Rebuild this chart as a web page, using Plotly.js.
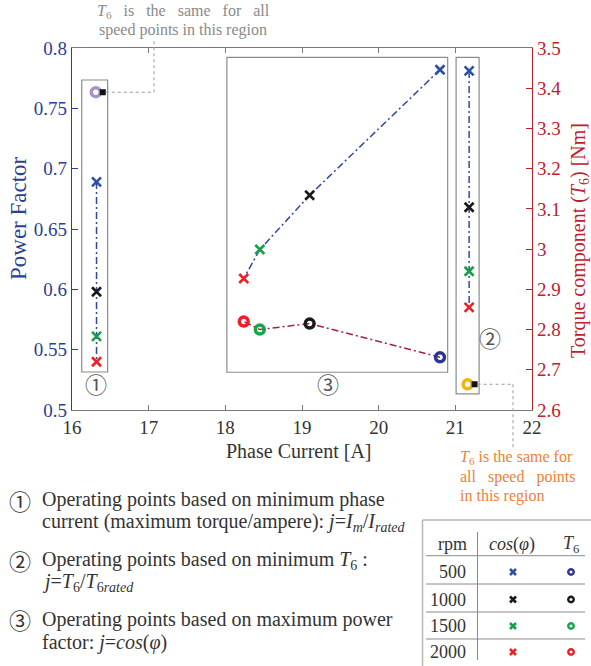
<!DOCTYPE html>
<html>
<head>
<meta charset="utf-8">
<script src="https://cdn.plot.ly/plotly-3.0.1.min.js"></script>
<style>html,body{margin:0;padding:0;background:#fff;}</style>
</head>
<body>
<div id="chart" style="width:591px;height:666px;"></div>
<script>
// ---- data -------------------------------------------------------------
const speeds = ['500', '1000', '1500', '2000'];          // rpm
const crossColors  = ['#2f4ea6', '#1a1a1a', '#17a04c', '#ec2027'];
const circleColors = ['#2d3594', '#1a1a1a', '#12a84a', '#ee1c25'];

// region 1: minimum phase current
const minCurI  = [16.32, 16.32, 16.32, 16.32];
const minCurPF = [0.689, 0.598, 0.561, 0.540];
const minCurT6I = 16.31;
const minCurT6  = 3.39;          // same T6 for all speeds

// region 2: minimum T6
const minT6I  = [21.18, 21.18, 21.18, 21.18];
const minT6PF = [0.781, 0.668, 0.615, 0.585];
const minT6T6I = 21.16;
const minT6T6  = 2.664;          // same T6 for all speeds

// region 3: maximum power factor
const maxPFI  = [20.80, 19.10, 18.45, 18.24];
const maxPFPF = [0.782, 0.678, 0.633, 0.609];
const maxPFT6 = [2.731, 2.815, 2.800, 2.820];

const xTicks  = [16, 17, 18, 19, 20, 21, 22];
const pfTicks = [0.5, 0.55, 0.6, 0.65, 0.7, 0.75, 0.8];
const t6Ticks = [2.6, 2.7, 2.8, 2.9, 3, 3.1, 3.2, 3.3, 3.4, 3.5];

// ---- geometry helpers (figure pixels -> paper fractions) --------------
const W = 591, H = 666;
const PL = 72, PR = 532, PT = 48, PB = 410;
const px = X => X / W;
const py = Y => 1 - Y / H;
const xRange = [16, 22], pfRange = [0.5, 0.8], t6Range = [2.6, 3.5];
const xToPx  = x => PL + (x - xRange[0]) / (xRange[1] - xRange[0]) * (PR - PL);
const t6ToPy = t => PB - (t - t6Range[0]) / (t6Range[1] - t6Range[0]) * (PB - PT);

const SERIF = 'Liberation Serif, Times New Roman, serif';
const CIRC  = 'Noto Sans CJK JP, DejaVu Sans, sans-serif';
const BLUE = '#2b3f96', RED = '#c0202c', GRAY = '#333333';
const dashDot = '7px,3px,2px,3px';

const crossMarker = colors => ({
  symbol: 'x-thin', size: 9, color: colors,
  line: {color: colors, width: 2.6}
});
const ringMarker = colors => ({
  symbol: 'circle-open', size: 9, color: colors,
  line: {color: colors, width: 3.4}
});

const traces = [
  // region 1
  {x: minCurI, y: minCurPF, mode: 'lines', line: {color: '#2d4aa0', width: 1.5, dash: dashDot}},
  {x: minCurI, y: minCurPF, mode: 'markers', marker: crossMarker(crossColors)},
  {x: [minCurT6I], y: [minCurT6], yaxis: 'y2', mode: 'markers', marker: ringMarker(['#a592c8'])},
  // region 2
  {x: minT6I, y: minT6PF, mode: 'lines', line: {color: '#2d4aa0', width: 1.5, dash: dashDot}},
  {x: minT6I, y: minT6PF, mode: 'markers', marker: crossMarker(crossColors)},
  {x: [minT6T6I], y: [minT6T6], yaxis: 'y2', mode: 'markers', marker: ringMarker(['#f6b400'])},
  // region 3
  {x: maxPFI, y: maxPFPF, mode: 'lines', line: {color: '#2d4aa0', width: 1.5, dash: dashDot}},
  {x: maxPFI, y: maxPFPF, mode: 'markers', marker: crossMarker(crossColors)},
  {x: maxPFI, y: maxPFT6, yaxis: 'y2', mode: 'lines', line: {color: '#a3243b', width: 1.5, dash: dashDot}},
  {x: maxPFI, y: maxPFT6, yaxis: 'y2', mode: 'markers', marker: ringMarker(circleColors)}
];

// speed legend table (own hidden axes, in figure pixel units)
const rowY = [572, 599.5, 626, 652];
traces.push({x: rowY.map(() => 513), y: rowY, xaxis: 'x3', yaxis: 'y3', mode: 'markers',
  marker: {symbol: 'x-thin', size: 6, color: crossColors, line: {color: crossColors, width: 2.6}}});
traces.push({x: rowY.map(() => 571), y: rowY, xaxis: 'x3', yaxis: 'y3', mode: 'markers',
  marker: {symbol: 'circle-open', size: 5.5, color: circleColors, line: {color: circleColors, width: 2.4}}});
traces.forEach(t => { t.showlegend = false; t.hoverinfo = 'skip'; t.cliponaxis = false; });

// ---- shapes -----------------------------------------------------------
const shapes = [];
const boxLine = {color: '#8c8c8c', width: 1.2};
// operating-region frames (data coordinates)
[[16.127, 16.465, 0.5315, 0.7735],
 [18.02, 20.90, 0.5313, 0.7923],
 [21.01, 21.31, 0.5133, 0.7923]].forEach(b => shapes.push({
  type: 'rect', xref: 'x', yref: 'y', x0: b[0], x1: b[1], y0: b[2], y1: b[3],
  line: boxLine, layer: 'below'}));

// pointer squares and dotted leaders for the shared-T6 notes
function pointer(cx, cy, path) {
  const sx = xToPx(cx) + 7, sy = t6ToPy(cy);
  shapes.push({type: 'rect', xref: 'paper', yref: 'paper',
    x0: px(sx - 3), x1: px(sx + 3), y0: py(sy + 3), y1: py(sy - 3),
    fillcolor: '#111', line: {width: 0}});
  let pts = [[sx + 3, sy]].concat(path(sx, sy));
  for (let i = 0; i < pts.length - 1; i++) {
    shapes.push({type: 'line', xref: 'paper', yref: 'paper',
      x0: px(pts[i][0]), y0: py(pts[i][1]), x1: px(pts[i + 1][0]), y1: py(pts[i + 1][1]),
      line: {color: '#9a9a9a', width: 1, dash: 'dot'}});
  }
}
pointer(minCurT6I, minCurT6, (sx, sy) => [[154, sy], [154, 41]]);
pointer(minT6T6I, minT6T6, (sx, sy) => [[513, sy], [513, 449]]);

// table rules
const tl = (x0, y0, x1, y1, c, w) => shapes.push({type: 'line', xref: 'paper', yref: 'paper',
  x0: px(x0), y0: py(y0), x1: px(x1), y1: py(y1), line: {color: c, width: w}});
tl(422.5, 520, 591, 520, '#b5b5b5', 1.5);
tl(422.5, 520, 422.5, 666, '#b5b5b5', 1.5);
tl(477.5, 532, 477.5, 660, '#8a8a8a', 1);
[555.7, 584, 612, 639].forEach(y => tl(426, y, 585, y, '#8a8a8a', 1));

// ---- text ---------------------------------------------------------------
const ann = [];
const A = (text, X, Y, o = {}) => ann.push(Object.assign({
  text, xref: 'paper', yref: 'paper', x: px(X), y: py(Y), showarrow: false,
  xanchor: 'center', yanchor: 'middle',
  font: {family: SERIF, size: 16, color: GRAY}}, o));

// axis titles
A('Power Factor', 18, 218, {textangle: -90, font: {family: SERIF, size: 23, color: BLUE}});
A('Phase Current [A]', 299, 451, {font: {family: SERIF, size: 20, color: GRAY}});
A('Torque component (<i>T</i><sub>6</sub>) [Nm]', 579, 241,
  {textangle: -90, font: {family: SERIF, size: 20, color: RED}});

// region labels
const cf = {family: CIRC, size: 22, color: '#555'};
A('①', 96, 383, {font: cf});
A('③', 328, 383, {font: cf});
A('②', 490, 337, {font: cf});

// shared-T6 notes
const nb = '\u00a0\u00a0\u00a0';
const g = {family: SERIF, size: 16, color: '#8a8a8a'};
A('<i>T</i><sub>6</sub>' + nb + 'is' + nb + 'the' + nb + 'same' + nb + 'for' + nb + 'all', 183, 11, {font: g});
A('speed points in this region', 183, 30, {font: g});
const o = {family: SERIF, size: 16, color: '#ee7f35'};
A('<i>T</i><sub>6</sub> is the same for', 458, 457, {xanchor: 'left', font: o});
A('all' + nb + 'speed' + nb + 'points', 458, 477, {xanchor: 'left', font: o});
A('in this region', 458, 496, {xanchor: 'left', font: o});

// explanation lines
const bf = {family: SERIF, size: 20, color: GRAY};
const cb = {family: CIRC, size: 22, color: GRAY};
A('①', 20, 500, {font: cb});
A('Operating points based on minimum phase', 40, 500, {xanchor: 'left', font: bf});
A('current (maximum torque/ampere): <i>j</i>=<i>I<sub>m</sub></i>/<i>I<sub>rated</sub></i>', 40, 522, {xanchor: 'left', font: bf});
A('②', 20, 560, {font: cb});
A('Operating points based on minimum <i>T</i><sub>6</sub> :', 40, 560, {xanchor: 'left', font: bf});
A('<i>j</i>=<i>T</i><sub>6</sub>/<i>T</i><sub>6<i>rated</i></sub>', 40, 582, {xanchor: 'left', font: bf});
A('③', 20, 619, {font: cb});
A('Operating points based on maximum power', 40, 619, {xanchor: 'left', font: bf});
A('factor: <i>j</i>=<i>cos</i>(<i>φ</i>)', 40, 642, {xanchor: 'left', font: bf});

// table text
const tf = {family: SERIF, size: 18, color: GRAY};
A('rpm', 452, 544, {font: tf});
A('<i>cos</i>(<i>φ</i>)', 512, 544, {font: tf});
A('<i>T</i><sub>6</sub>', 571, 544, {font: tf});
speeds.forEach((s, i) => A(s, 468, rowY[i], {xanchor: 'right', font: tf}));

// ---- layout -------------------------------------------------------------
const layout = {
  width: W, height: H,
  margin: {l: 0, r: 0, t: 0, b: 0, pad: 0},
  paper_bgcolor: '#fff', plot_bgcolor: 'rgba(0,0,0,0)',
  showlegend: false,
  xaxis: {
    domain: [px(PL), px(PR)], range: xRange, tickvals: xTicks, anchor: 'y',
    showgrid: false, zeroline: false, showline: true, linecolor: '#7a7a7a', linewidth: 1,
    mirror: 'ticks', ticks: 'inside', ticklen: 5, tickcolor: '#7a7a7a',
    tickfont: {family: SERIF, size: 19, color: GRAY}
  },
  yaxis: {
    domain: [py(PB), py(PT)], range: pfRange, tickvals: pfTicks, anchor: 'x',
    showgrid: false, zeroline: false, showline: true, linecolor: BLUE, linewidth: 1.2,
    ticks: 'inside', ticklen: 6, tickcolor: BLUE,
    tickfont: {family: SERIF, size: 19, color: BLUE}
  },
  yaxis2: {
    overlaying: 'y', side: 'right', anchor: 'x', range: t6Range, tickvals: t6Ticks,
    showgrid: false, zeroline: false, showline: true, linecolor: RED, linewidth: 1.2,
    ticks: 'inside', ticklen: 6, tickcolor: RED,
    tickfont: {family: SERIF, size: 19, color: RED}
  },
  xaxis3: {domain: [px(422), 1], range: [422, 591], anchor: 'y3', visible: false, fixedrange: true},
  yaxis3: {domain: [0, py(520)], range: [666, 520], anchor: 'x3', visible: false, fixedrange: true},
  shapes: shapes,
  annotations: ann
};

Plotly.newPlot('chart', traces, layout, {staticPlot: true, displayModeBar: false});
</script>
</body>
</html>
